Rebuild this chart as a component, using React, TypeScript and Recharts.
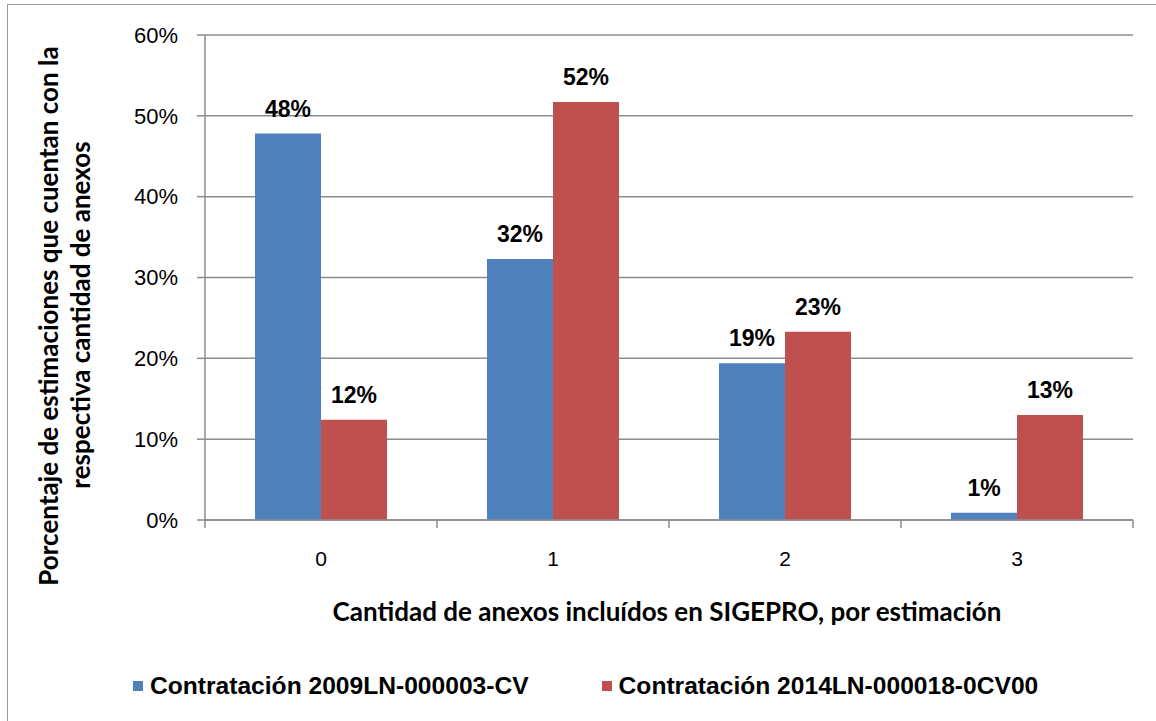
import React from "react";
import { Bar, BarChart, CartesianGrid, LabelList, Legend, XAxis, YAxis } from "recharts";

const categories = ["0", "1", "2", "3"];
const series2009 = [47.8, 32.3, 19.4, 0.9];
const series2014 = [12.4, 51.7, 23.3, 13.0];
const labels2009 = ["48%", "32%", "19%", "1%"];
const labels2014 = ["12%", "52%", "23%", "13%"];
const yTicks = [0, 10, 20, 30, 40, 50, 60];
const seriesNames = ["Contratación 2009LN-000003-CV", "Contratación 2014LN-000018-0CV00"];

const BLUE = "#4f81bd";
const RED = "#c0504d";
const GRID = "#8c8c8c";
const ARIAL = "'Liberation Sans', Arial, sans-serif";
const TITLE_FONT = "Lato, 'Open Sans', sans-serif";

const W = 1156;
const H = 721;
const PLOT_LEFT = 205;
const PLOT_RIGHT = 1133;
const PLOT_TOP = 35;
const PLOT_BOTTOM = 520;
const BAND = (PLOT_RIGHT - PLOT_LEFT) / categories.length;

const data = categories.map((cat, i) => ({
  cat,
  a: series2009[i],
  b: series2014[i],
  la: labels2009[i],
  lb: labels2014[i],
}));

function CategoryTick(props: any) {
  const { x, payload, index } = props;
  const left = x - BAND / 2;
  return (
    <g>
      <line x1={left} x2={left} y1={PLOT_BOTTOM} y2={PLOT_BOTTOM + 8} stroke={GRID} strokeWidth={1.5} />
      {index === categories.length - 1 && (
        <line x1={x + BAND / 2} x2={x + BAND / 2} y1={PLOT_BOTTOM} y2={PLOT_BOTTOM + 8} stroke={GRID} strokeWidth={1.5} />
      )}
      <text x={x} y={551} dy="0.72em" textAnchor="middle" fill="#000" fontSize={21} fontFamily={ARIAL}>
        {payload.value}
      </text>
    </g>
  );
}

function YTitle() {
  return (
    <g fontFamily={TITLE_FONT} fontWeight={700} fontSize={26} fill="#000">
      <text x={48} y={316} textAnchor="middle" dominantBaseline="central" transform="rotate(-90 48 316)">
        Porcentaje de estimaciones que cuentan con la
      </text>
      <text x={80} y={315} textAnchor="middle" dominantBaseline="central" transform="rotate(-90 80 315)">
        respectiva cantidad de anexos
      </text>
    </g>
  );
}

function XTitle() {
  return (
    <text x={667} y={611} textAnchor="middle" dominantBaseline="central" fontFamily={TITLE_FONT} fontWeight={700} fontSize={26} fill="#000">
      Cantidad de anexos incluídos en SIGEPRO, por estimación
    </text>
  );
}

function LegendContent() {
  const colors = [BLUE, RED];
  return (
    <div style={{ display: "flex", paddingLeft: 133, gap: 73, alignItems: "center" }}>
      {seriesNames.map((name, i) => (
        <div key={name} style={{ display: "flex", alignItems: "center" }}>
          <span style={{ width: 10, height: 10, background: colors[i], display: "inline-block", marginRight: 7 }} />
          <span style={{ fontFamily: ARIAL, fontWeight: 700, fontSize: 24.6, color: "#000", whiteSpace: "nowrap" }}>{name}</span>
        </div>
      ))}
    </div>
  );
}

export default function App() {
  return (
    <div style={{ position: "absolute", left: 0, top: 0, width: W, height: H, overflow: "hidden", background: "#fff" }}>
      <div
        style={{
          position: "absolute",
          left: 7,
          top: 4,
          width: W,
          height: H + 20,
          borderLeft: "1.5px solid #9a9a9a",
          borderTop: "1.5px solid #9a9a9a",
        }}
      />
      <BarChart
        width={W}
        height={H}
        data={data}
        margin={{ top: PLOT_TOP, right: W - PLOT_RIGHT, bottom: H - PLOT_BOTTOM - 60, left: PLOT_LEFT - 60 }}
        barGap={0}
        barSize={66}
        style={{ position: "absolute", left: 0, top: 0 }}
      >
        <CartesianGrid vertical={false} stroke={GRID} strokeWidth={1.5} />
        <XAxis
          dataKey="cat"
          height={60}
          stroke={GRID}
          strokeWidth={1.5}
          tickLine={false}
          tick={<CategoryTick />}
          interval={0}
          label={{ content: () => <XTitle /> }}
        />
        <YAxis
          width={60}
          domain={[0, 60]}
          ticks={yTicks}
          stroke={GRID}
          strokeWidth={1.5}
          tickSize={8}
          tickMargin={19}
          tickFormatter={(v: number) => `${v}%`}
          tick={{ fill: "#000", fontSize: 22, fontFamily: ARIAL }}
          label={{ content: () => <YTitle /> }}
        />
        <Legend
          layout="horizontal"
          verticalAlign="middle"
          align="center"
          content={() => <LegendContent />}
          wrapperStyle={{ left: 0, top: 672, width: W }}
        />
        <Bar dataKey="a" name={seriesNames[0]} fill={BLUE} isAnimationActive={false}>
          <LabelList dataKey="la" position="top" offset={17} fill="#000" fontSize={23} fontWeight={700} fontFamily={ARIAL} />
        </Bar>
        <Bar dataKey="b" name={seriesNames[1]} fill={RED} isAnimationActive={false}>
          <LabelList dataKey="lb" position="top" offset={17} fill="#000" fontSize={23} fontWeight={700} fontFamily={ARIAL} />
        </Bar>
      </BarChart>
    </div>
  );
}
